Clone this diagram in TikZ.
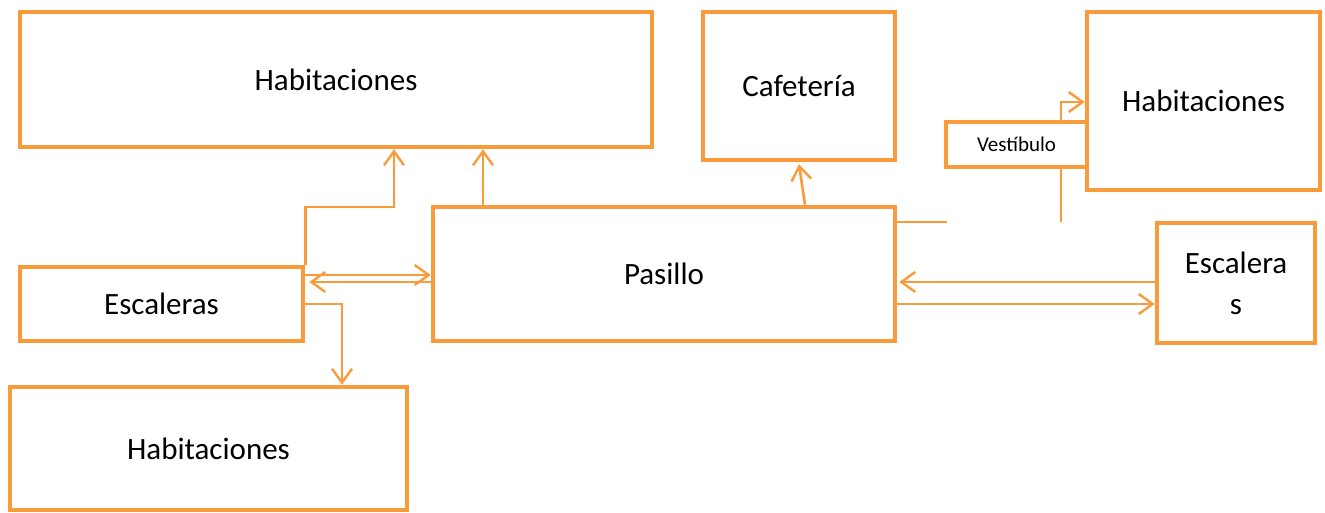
\documentclass[tikz,border=0pt]{standalone}
\usepackage{fontspec}
\setmainfont{Carlito}
\usetikzlibrary{arrows.meta,calc}
\definecolor{org}{RGB}{249,155,58}
\begin{document}
\begin{tikzpicture}[x=1pt,y=-1pt,
  box/.style={draw=org,line width=4.5pt,inner sep=0pt,align=center,font=\fontsize{31}{40}\selectfont},
  conn/.style={draw=org,line width=2.6pt},
  arr/.style={conn,-{Straight Barb[length=14pt,width=20pt,line width=2.4pt]}}]
\useasboundingbox (0,0) rectangle (1325,513);
\node[box,minimum width=632pt,minimum height=135pt] (hab1) at (336,79.5) {Habitaciones};
\node[box,minimum width=192pt,minimum height=148pt] (caf) at (799,86) {Cafetería};
\node[box,minimum width=233pt,minimum height=178pt] (hab2) at (1203.5,101) {Habitaciones};
\node[box,minimum width=141pt,minimum height=45pt,font=\fontsize{21}{26}\selectfont] (vest) at (1016.5,144.5) {Vestíbulo};
\node[box,minimum width=462pt,minimum height=134pt] (pas) at (664,274) {Pasillo};
\node[box,minimum width=283pt,minimum height=74pt] (esc1) at (161.5,304) {Escaleras};
\node[box,minimum width=158pt,minimum height=120pt,font=\fontsize{31}{41}\selectfont] (esc2) at (1236,283) {Escalera\\s};
\node[box,minimum width=397pt,minimum height=123pt] (hab3) at (208.5,448.5) {Habitaciones};
% helper coordinates
\coordinate (xa) at (394,0);
\coordinate (ya) at (0,207);
\coordinate (xb) at (483,0);
\coordinate (y1) at (0,275);
\coordinate (y2) at (0,282);
\coordinate (y3) at (0,304);
\coordinate (xc) at (342,0);
\coordinate (y4) at (0,222);
\coordinate (xv) at (1061,0);
\coordinate (y5) at (0,102);
\coordinate (xe) at (947,0);
% left side
\draw[arr] (esc1.north east) -- (esc1.north east |- ya) -| (hab1.south -| xa);
\draw[arr] (pas.north -| xb) -- (hab1.south -| xb);
\draw[arr] (esc1.east |- y1) -- (pas.west |- y1);
\draw[arr] (pas.west |- y2) -- ($(esc1.east |- y2)+(4,0)$);
\draw[arr] (esc1.east |- y3) -| (hab3.north -| xc);
% cafeteria
\draw[arr] ($(pas.north)+(141,0)$) -- ($(caf.south)+(0,2)$);
% right side
\draw[conn] (pas.east |- y4) -- (xe |- y4);
\draw[conn] (xv |- y4) -- (vest.south -| xv);
\draw[arr] (vest.north -| xv) |- (hab2.west |- y5);
\draw[arr] (esc2.west |- y2) -- ($(pas.east |- y2)+(2,0)$);
\draw[arr] (pas.east |- y3) -- (esc2.west |- y3);
\end{tikzpicture}
\end{document}
